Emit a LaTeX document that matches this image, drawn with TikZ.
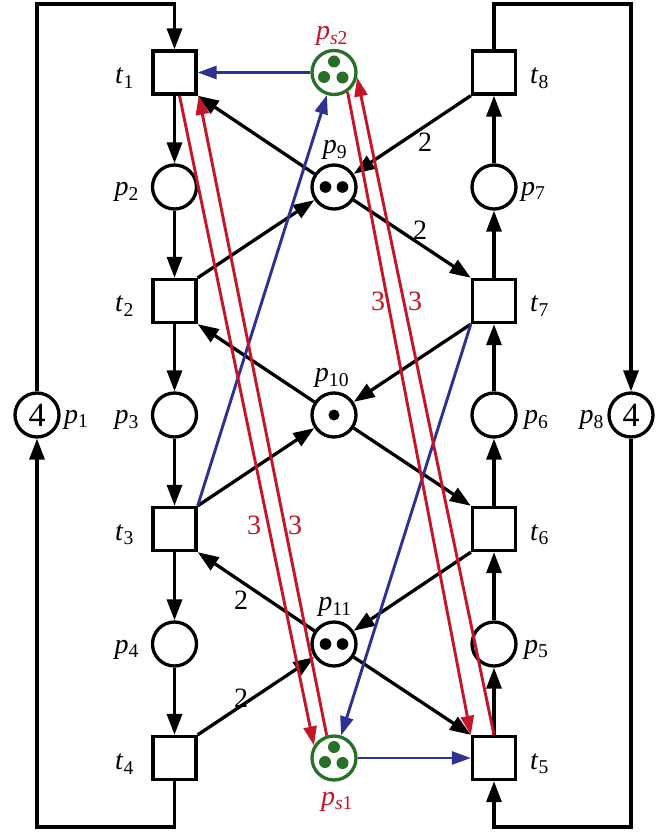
\documentclass[tikz,border=0pt]{standalone}
\usepackage{fontspec}
\setmainfont{Liberation Serif}
\usetikzlibrary{arrows.meta,calc}
\definecolor{rred}{RGB}{196,22,40}
\definecolor{bblue}{RGB}{46,49,146}
\definecolor{sgreen}{RGB}{40,112,40}
\newcommand\lb[2]{\textit{#1}\textsubscript{#2}}
\tikzset{
  every node/.style={font=\fontsize{28}{32}\selectfont},
  tr/.style={draw, line width=3.3pt, minimum size=43pt, inner sep=0pt},
  pl/.style={circle, draw, line width=3.3pt, minimum size=44pt, inner sep=0pt},
  spl/.style={pl, draw=sgreen},
  arc/.style={line width=3.3pt, -{Triangle[length=21pt,width=15pt]}},
  rarc/.style={line width=2.9pt, draw=rred, -{Triangle[length=19pt,width=13pt]}},
  barc/.style={line width=2.9pt, draw=bblue, -{Triangle[length=19pt,width=13pt]}},
  lbl/.style={inner sep=0pt},
  wt/.style={inner sep=0pt},
  rwt/.style={inner sep=0pt, text=rred},
  tok/.style={fill=black},
  gtok/.style={fill=sgreen},
}
\begin{document}
\begin{tikzpicture}[x=1pt,y=-1pt]
\useasboundingbox (0,0) rectangle (670,832);
% left column
\node[tr] (t1) at (174.5,72.5) {};
\node[pl] (p2) at (174.5,187) {};
\node[tr] (t2) at (174.5,301) {};
\node[pl] (p3) at (174.5,415) {};
\node[tr] (t3) at (174.5,529) {};
\node[pl] (p4) at (174.5,644) {};
\node[tr] (t4) at (174.5,758) {};
\node[pl] (p1) at (37,415) {\fontsize{34}{38}\selectfont 4};
% right column
\node[tr] (t8) at (494,72.5) {};
\node[pl] (p7) at (494,187) {};
\node[tr] (t7) at (494,301) {};
\node[pl] (p6) at (494,415) {};
\node[tr] (t6) at (494,529) {};
\node[pl] (p5) at (494,644) {};
\node[tr] (t5) at (494,758) {};
\node[pl] (p8) at (631,415) {\fontsize{34}{38}\selectfont 4};
% middle column
\node[spl] (ps2) at (334,72.5) {};
\node[pl] (p9) at (334,187) {};
\node[pl] (p10) at (334,415) {};
\node[pl] (p11) at (334,644) {};
\node[spl] (ps1) at (334,758) {};
% tokens
\fill[tok] ($(p9)+(-8.5,0)$) circle[radius=5.8pt];
\fill[tok] ($(p9)+(8.5,0)$) circle[radius=5.8pt];
\fill[tok] (p10) circle[radius=5.5pt];
\fill[tok] ($(p11)+(-8.5,0)$) circle[radius=5.8pt];
\fill[tok] ($(p11)+(8.5,0)$) circle[radius=5.8pt];
\fill[gtok] ($(ps2)+(0,-11)$) circle[radius=6pt];
\fill[gtok] ($(ps2)+(-10,4.5)$) circle[radius=6pt];
\fill[gtok] ($(ps2)+(8.5,5)$) circle[radius=6pt];
\fill[gtok] ($(ps1)+(0,-11)$) circle[radius=6pt];
\fill[gtok] ($(ps1)+(-9,4)$) circle[radius=6pt];
\fill[gtok] ($(ps1)+(8.5,5)$) circle[radius=6pt];
% labels
\node[lbl, anchor=east] (lt1) at (134,78) {\lb{t}{1}};
\node[lbl, anchor=east] (lp2) at (139,192) {\lb{p}{2}};
\node[lbl, anchor=east] (lt2) at (134,306) {\lb{t}{2}};
\node[lbl, anchor=east] (lp3) at (139,420) {\lb{p}{3}};
\node[lbl, anchor=east] (lt3) at (134,535) {\lb{t}{3}};
\node[lbl, anchor=east] (lp4) at (139,650) {\lb{p}{4}};
\node[lbl, anchor=east] (lt4) at (134,764) {\lb{t}{4}};
\node[lbl, anchor=west] (lp1) at (64,420) {\lb{p}{1}};
\node[lbl, anchor=west] (lt8) at (530,78) {\lb{t}{8}};
\node[lbl, anchor=west] (lp7) at (521,192) {\lb{p}{7}};
\node[lbl, anchor=west] (lt7) at (530,306) {\lb{t}{7}};
\node[lbl, anchor=west] (lp6) at (524,420) {\lb{p}{6}};
\node[lbl, anchor=west] (lt6) at (530,535) {\lb{t}{6}};
\node[lbl, anchor=west] (lp5) at (524,650) {\lb{p}{5}};
\node[lbl, anchor=west] (lt5) at (530,764) {\lb{t}{5}};
\node[lbl, anchor=east] (lp8) at (604,420) {\lb{p}{8}};
\node[lbl, anchor=south] (lp9) at (335,160) {\lb{p}{9}};
\node[lbl, anchor=south] (lp10) at (332,388) {\lb{p}{10}};
\node[lbl, anchor=south] (lp11) at (335,617) {\lb{p}{11}};
\node[lbl, anchor=south, text=rred] (lps2) at (332,46) {\lb{p}{\textit{s}2}};
\node[lbl, anchor=north, text=rred] (lps1) at (337,792) {\lb{p}{\textit{s}1}};
% weights
\node[wt] (w1) at (425,142) {2};
\node[wt] (w2) at (420,230) {2};
\node[wt] (w3) at (241,600) {2};
\node[wt] (w4) at (241,698) {2};
\node[rwt] (w5) at (254,525) {3};
\node[rwt] (w6) at (295,525) {3};
\node[rwt] (w7) at (378,301) {3};
\node[rwt] (w8) at (415,301) {3};
% loop coordinates
\coordinate (lt) at (37,4);
\coordinate (lb) at (37,827);
\coordinate (rt) at (631,4);
\coordinate (rb) at (631,827);
% column arcs
\draw[arc] (t1.south) -- (p2.north);
\draw[arc] (p2.south) -- (t2.north);
\draw[arc] (t2.south) -- (p3.north);
\draw[arc] (p3.south) -- (t3.north);
\draw[arc] (t3.south) -- (p4.north);
\draw[arc] (p4.south) -- (t4.north);
\draw[arc] (t5.north) -- (p5.south);
\draw[arc] (p5.north) -- (t6.south);
\draw[arc] (t6.north) -- (p6.south);
\draw[arc] (p6.north) -- (t7.south);
\draw[arc] (t7.north) -- (p7.south);
\draw[arc] (p7.north) -- (t8.south);
% loops
\draw[arc] (p1.north) -- (lt) -| (t1.north);
\draw[arc] (t4.south) |- (lb) -- (p1.south);
\draw[arc] (t8.north) |- (rt) -- (p8.north);
\draw[arc] (p8.south) -- (rb) -| (t5.south);
% cross arcs
\draw[arc] (p9) -- (t1.south east);
\draw[arc] (t2.north east) -- (p9);
\draw[arc] (t8.south west) -- (p9);
\draw[arc] (p9) -- (t7.north west);
\draw[arc] (t7.south west) -- (p10);
\draw[arc] (p10) -- (t2.south east);
\draw[arc] (t3.north east) -- (p10);
\draw[arc] (p10) -- (t6.north west);
\draw[arc] (t6.south west) -- (p11);
\draw[arc] (p11) -- (t3.south east);
\draw[arc] (t4.north east) -- (p11);
\draw[arc] (p11) -- (t5.north west);
% blue arcs
\draw[barc] (ps2.west) -- (t1.east);
\draw[barc] (t3.north east) -- (ps2);
\draw[barc] (t7.south west) -- (ps1);
\draw[barc] (ps1.east) -- (t5.west);
% red arcs
\draw[rarc] ($(t1.south)+(5,0)$) -- (ps1.148);
\draw[rarc] (ps1.108) -- ($(t1.south east)+(1,0)$);
\draw[rarc] (ps2.-55) -- (t5.north west);
\draw[rarc] (t5.north) -- (ps2.-12);
\end{tikzpicture}
\end{document}
